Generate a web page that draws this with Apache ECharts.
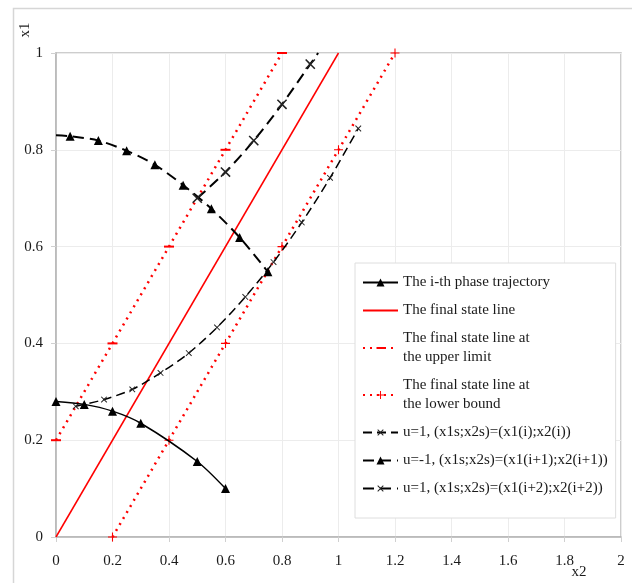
<!DOCTYPE html>
<html><head><meta charset="utf-8">
<script src="https://cdn.jsdelivr.net/npm/echarts@6/dist/echarts.min.js"></script>
<style>html,body{margin:0;padding:0;background:#fff}#c{width:632px;height:583px}</style>
</head><body><div id="c"></div>
<script>
// ---- data ----
const xTicks = ['0','0.2','0.4','0.6','0.8','1','1.2','1.4','1.6','1.8','2'];
const yTicks = ['0','0.2','0.4','0.6','0.8','1'];
const seriesNames = [
  'The i-th phase trajectory',
  'The final state line',
  'The final state line at\nthe upper limit',
  'The final state line at\nthe lower bound',
  'u=1, (x1s;x2s)=(x1(i);x2(i))',
  'u=-1, (x1s;x2s)=(x1(i+1);x2(i+1))',
  'u=1, (x1s;x2s)=(x1(i+2);x2(i+2))'
];
const trajX = [0, 0.1, 0.2, 0.3, 0.5, 0.6];
const trajY = [0.28, 0.274, 0.26, 0.235, 0.156, 0.1];
const finalX = [0, 1];
const finalY = [0, 1];
const upperX = [0, 0.2, 0.4, 0.6, 0.8];
const upperY = [0.2, 0.4, 0.6, 0.8, 1.0];
const lowerX = [0.2, 0.4, 0.6, 0.8, 1.0, 1.2];
const lowerY = [0, 0.2, 0.4, 0.6, 0.8, 1.0];
const uiX = [0.07, 0.17, 0.27, 0.37, 0.47, 0.57, 0.67, 0.77, 0.87, 0.97, 1.07];
const uiY = [0.27, 0.284, 0.305, 0.339, 0.38, 0.433, 0.496, 0.568, 0.65, 0.742, 0.844];
const umX = [0, 0.05, 0.15, 0.25, 0.35, 0.45, 0.55, 0.65, 0.75];
const umY = [0.83, 0.828, 0.819, 0.798, 0.769, 0.727, 0.678, 0.619, 0.548];
const u2X = [0.5, 0.6, 0.7, 0.8, 0.9, 0.928];
const u2Y = [0.7, 0.754, 0.819, 0.894, 0.977, 1.0];

// ---- helpers ----
const pts = (xs, ys) => xs.map((x, i) => [x, ys[i]]);
const PLUS = 'path://M4.4,0h1.2v4.4h4.4v1.2h-4.4v4.4h-1.2v-4.4h-4.4v-1.2h4.4z';
const SERIF = 'Liberation Serif, Times New Roman, serif';
const TXT = '#1a1a1a';

const umData = pts(umX, umY).map((p, i) => i === 0 ? {value: p, symbol: 'none'} : p);
const u2Data = pts(u2X, u2Y).map((p, i, a) => i === a.length - 1 ? {value: p, symbol: 'none'} : p);

const chart = echarts.init(document.getElementById('c'), null, {renderer: 'canvas'});
chart.setOption({
  animation: false,
  backgroundColor: '#fff',
  graphic: [
    {type: 'rect', left: 11, top: 6, shape: {width: 700, height: 700},
     style: {fill: 'none', stroke: '#d6d6d6', lineWidth: 1.5}, silent: true, z: -10},
    {type: 'text', x: 25, y: 30, rotation: Math.PI / 2,
     style: {text: 'x1', font: '15px ' + SERIF, fill: TXT, align: 'center', verticalAlign: 'middle'}},
    {type: 'text', x: 579, y: 572,
     style: {text: 'x2', font: '15px ' + SERIF, fill: TXT, align: 'center', verticalAlign: 'middle'}}
  ],
  grid: {left: 56, right: 11, top: 53, bottom: 46, show: true, borderColor: '#bdbdbd', borderWidth: 1.5, backgroundColor: 'transparent'},
  xAxis: {
    type: 'value', min: 0, max: 2, interval: 0.2,
    axisLine: {show: true, lineStyle: {color: '#b5b5b5', width: 1.5}},
    axisTick: {show: true, length: 5, lineStyle: {color: '#d0d0d0'}},
    splitLine: {show: true, lineStyle: {color: '#ececec', width: 1}},
    axisLabel: {margin: 17, fontFamily: SERIF, fontSize: 15, color: TXT,
      formatter: (v) => xTicks[Math.round(v / 0.2)]}
  },
  yAxis: {
    type: 'value', min: 0, max: 1, interval: 0.2,
    axisLine: {show: true, lineStyle: {color: '#b5b5b5', width: 1.5}},
    axisTick: {show: true, length: 5, lineStyle: {color: '#d0d0d0'}},
    splitLine: {show: true, lineStyle: {color: '#ececec', width: 1}},
    axisLabel: {margin: 13, fontFamily: SERIF, fontSize: 15, color: TXT,
      formatter: (v) => yTicks[Math.round(v / 0.2)]}
  },
  legend: {
    show: true, orient: 'vertical', left: 355, top: 263,
    padding: [10, 8, 20, 7], itemGap: 9, itemWidth: 35, itemHeight: 10,
    backgroundColor: '#fff', borderColor: '#dedede', borderWidth: 1,
    textStyle: {fontFamily: SERIF, fontSize: 15, color: TXT, lineHeight: 19},
    data: seriesNames
  },
  series: [
    {name: seriesNames[0], type: 'line', data: pts(trajX, trajY), smooth: 0.3,
     symbol: 'triangle', symbolSize: 9, itemStyle: {color: '#000'},
     lineStyle: {color: '#000', width: 1.5, type: 'solid'}, z: 5},
    {name: seriesNames[1], type: 'line', data: pts(finalX, finalY),
     symbol: 'line', showSymbol: false,
     itemStyle: {color: '#ff0000', borderWidth: 1.5}, lineStyle: {color: '#ff0000', width: 1.5}},
    {name: seriesNames[2], type: 'line', data: pts(upperX, upperY),
     symbol: 'line', symbolSize: [10, 2], itemStyle: {color: '#ff0000', borderColor: '#ff0000', borderWidth: 2},
     lineStyle: {color: '#ff0000', width: 2.5, type: [2, 5]}},
    {name: seriesNames[3], type: 'line', data: pts(lowerX, lowerY),
     symbol: PLUS, symbolSize: 9, itemStyle: {color: '#ff0000'},
     lineStyle: {color: '#ff0000', width: 2.5, type: [2, 5]}},
    {name: seriesNames[4], type: 'line', data: pts(uiX, uiY), smooth: 0.3,
     symbol: PLUS, symbolSize: 8, symbolRotate: 45, itemStyle: {color: '#222'},
     lineStyle: {color: '#000', width: 1.5, type: [9, 5]}, z: 4},
    {name: seriesNames[5], type: 'line', data: umData, smooth: 0.3,
     symbol: 'triangle', symbolSize: 9, itemStyle: {color: '#000'},
     lineStyle: {color: '#000', width: 2, type: [11, 6]}, z: 4},
    {name: seriesNames[6], type: 'line', data: u2Data, smooth: 0.3,
     symbol: PLUS, symbolSize: 13, symbolRotate: 45, itemStyle: {color: '#222'},
     lineStyle: {color: '#000', width: 2, type: [11, 6]}, z: 4}
  ]
});
</script></body></html>
